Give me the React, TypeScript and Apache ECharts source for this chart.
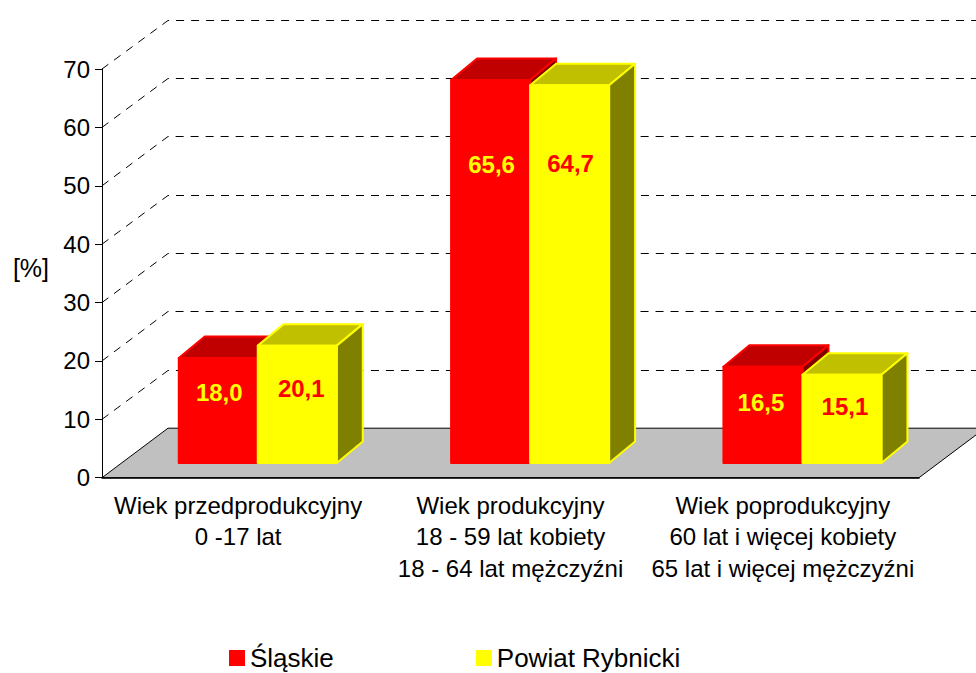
import React, { useEffect, useRef } from "react";
import * as echarts from "echarts";

const categories = [
  "Wiek przedprodukcyjny\n0 -17 lat",
  "Wiek produkcyjny\n18 - 59 lat kobiety\n18 - 64 lat mężczyźni",
  "Wiek poprodukcyjny\n60 lat i więcej kobiety\n65 lat i więcej mężczyźni",
];
const slaskie = [18.0, 65.6, 16.5];
const rybnicki = [20.1, 64.7, 15.1];
const wallTicks = [10, 20, 30, 40, 50, 60, 70];

const FONT = '"Liberation Sans", Arial, sans-serif';
const WALL_DX = 66;
const WALL_DY = 49.5;
const BAR_SHIFT_X = 19.6;
const BAR_SHIFT_Y = 14.7;
const DEPTH_X = 26;
const DEPTH_Y = 21.5;
const BAR_W = 79;
// hand-placed label offsets from each bar's top centre
const redLabelOffset = [[1, 35], [1, 85], [-2, 36]];
const yellowLabelOffset = [[4, 43], [1, 78], [3, 32]];

function barSeries(
  name: string,
  values: number[],
  side: -1 | 1,
  face: string,
  top: string,
  right: string,
  labelColor: string,
  labelOffset: number[][],
) {
  return {
    type: "custom",
    name,
    clip: false,
    z: 5,
    itemStyle: { color: face },
    data: values.map((v, i) => [i, v]),
    renderItem: (_p: any, api: any) => {
      const c = api.value(0);
      const v = api.value(1);
      const t = api.coord([c, v]);
      const b = api.coord([c, 0]);
      const cx = t[0] + BAR_SHIFT_X;
      const x0 = side < 0 ? cx - BAR_W : cx;
      const x1 = x0 + BAR_W;
      const yT = t[1] - BAR_SHIFT_Y;
      const yB = b[1] - BAR_SHIFT_Y;
      const stroke = { stroke: face, lineWidth: 2, lineJoin: "round" };
      const off = labelOffset[c];
      return {
        type: "group",
        children: [
          {
            type: "polygon",
            shape: { points: [[x0, yT], [x1, yT], [x1 + DEPTH_X, yT - DEPTH_Y], [x0 + DEPTH_X, yT - DEPTH_Y]] },
            style: { fill: top, ...stroke },
          },
          {
            type: "polygon",
            shape: { points: [[x1, yT], [x1 + DEPTH_X, yT - DEPTH_Y], [x1 + DEPTH_X, yB - DEPTH_Y], [x1, yB]] },
            style: { fill: right, ...stroke },
          },
          {
            type: "rect",
            shape: { x: x0, y: yT, width: BAR_W, height: yB - yT },
            style: { fill: face, ...stroke },
          },
          {
            type: "text",
            style: {
              text: v.toFixed(1).replace(".", ","),
              x: (x0 + x1) / 2 + off[0],
              y: yT + off[1],
              fill: labelColor,
              font: `bold 24px ${FONT}`,
              align: "center",
              verticalAlign: "middle",
            },
          },
        ],
      };
    },
  };
}

export default function App() {
  const ref = useRef<HTMLDivElement>(null);
  useEffect(() => {
    document.body.style.margin = "0";
    const chart = echarts.init(ref.current!, null, { renderer: "svg" });
    chart.setOption({
      animation: false,
      backgroundColor: "#ffffff",
      legend: {
        data: ["Śląskie", "Powiat Rybnicki"],
        left: 229,
        top: 645,
        padding: 0,
        itemWidth: 16,
        itemHeight: 16,
        itemGap: 142,
        icon: "rect",
        textStyle: { fontFamily: FONT, fontSize: 26, color: "#000" },
      },
      grid: { left: 102, top: 69, width: 817, height: 408.7, outerBoundsMode: "none" },
      xAxis: {
        type: "category",
        data: categories,
        axisLine: { lineStyle: { color: "#000", width: 1.5 } },
        axisTick: { length: 6, lineStyle: { color: "#000" } },
        axisLabel: {
          fontFamily: FONT,
          fontSize: 24,
          color: "#000",
          lineHeight: 31.5,
          margin: 12,
          interval: 0,
        },
        z: 6,
      },
      yAxis: {
        type: "value",
        min: 0,
        max: 70,
        interval: 10,
        name: "[%]",
        nameLocation: "middle",
        nameRotate: 0,
        nameGap: 53,
        nameTextStyle: { fontFamily: FONT, fontSize: 25, color: "#000", verticalAlign: "bottom", lineHeight: 10 },
        splitLine: { show: false },
        axisLine: { show: true, lineStyle: { color: "#000" } },
        axisTick: { show: true, length: 7, lineStyle: { color: "#000" } },
        axisLabel: { fontFamily: FONT, fontSize: 24, color: "#000", margin: 12 },
      },
      series: [
        {
          type: "custom",
          name: "floor",
          clip: false,
          z: 1,
          silent: true,
          data: [[0, 0]],
          renderItem: (p: any) => {
            const g = p.coordSys;
            const yB = g.y + g.height;
            return {
              type: "group",
              children: [
                {
                  type: "polygon",
                  shape: {
                    points: [
                      [g.x, yB],
                      [g.x + WALL_DX, yB - WALL_DY],
                      [g.x + g.width + WALL_DX, yB - WALL_DY],
                      [g.x + g.width, yB],
                    ],
                  },
                  style: { fill: "#c0c0c0", stroke: "#000", lineWidth: 1 },
                },
              ],
            };
          },
        },
        {
          type: "custom",
          name: "wall",
          clip: false,
          z: 1,
          silent: true,
          data: wallTicks.map((t) => [0, t]),
          renderItem: (p: any, api: any) => {
            const g = p.coordSys;
            const y = api.coord([0, api.value(1)])[1];
            const yBack = Math.round(y - WALL_DY) + 0.5;
            return {
              type: "polyline",
              shape: {
                points: [
                  [g.x, y],
                  [g.x + WALL_DX, yBack],
                  [g.x + g.width + WALL_DX, yBack],
                ],
              },
              style: { fill: "none", stroke: "#000", lineWidth: 1, lineDash: [8, 7] },
            };
          },
        },
        barSeries("Śląskie", slaskie, -1, "#ff0000", "#c00000", "#800000", "#ffff00", redLabelOffset),
        barSeries("Powiat Rybnicki", rybnicki, 1, "#ffff00", "#c0c000", "#808000", "#ff0000", yellowLabelOffset),
      ],
    });
    return () => chart.dispose();
  }, []);
  return <div ref={ref} style={{ width: 976, height: 673 }} />;
}
